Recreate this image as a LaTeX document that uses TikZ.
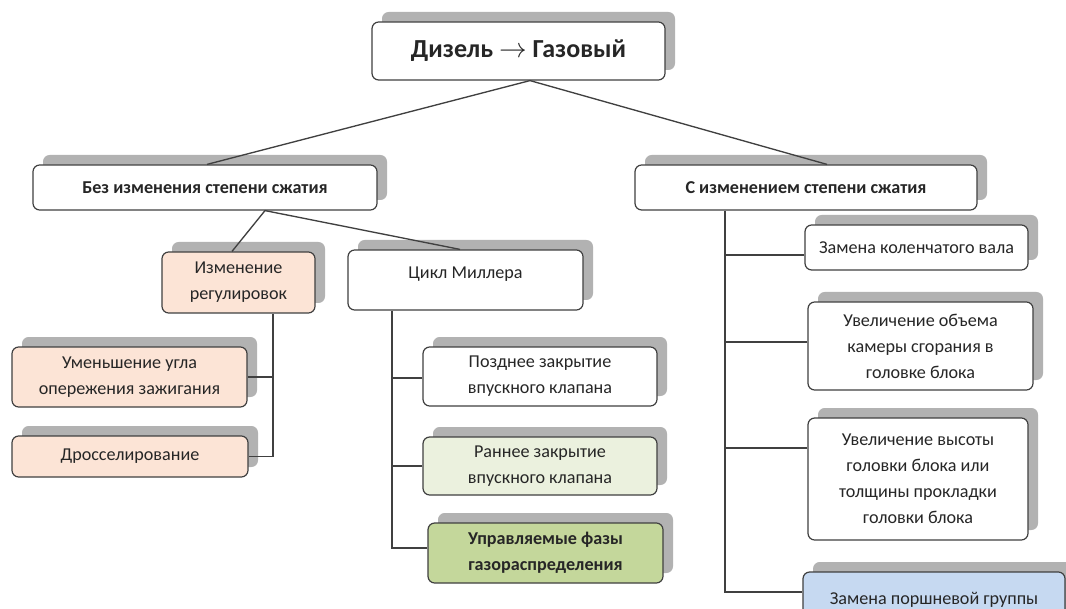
\documentclass[tikz,border=0pt]{standalone}
\usepackage{fontspec}
\setmainfont{Carlito}
\usetikzlibrary{calc,shadows}
\definecolor{peach}{HTML}{FCE4D6}
\definecolor{lgreen}{HTML}{EBF1DE}
\definecolor{dgreen}{HTML}{C4D79B}
\definecolor{lblue}{HTML}{C6D9F1}
\definecolor{edge}{HTML}{404040}
\begin{document}
\begin{tikzpicture}[x=0.75pt,y=-0.75pt,
  wh/.style 2 args={minimum width=#1*0.75pt,minimum height=#2*0.75pt},
  box/.style={draw=edge, line width=0.9pt, rounded corners=5pt, fill=white,
    align=center, inner sep=0pt, text=black!85,
    font=\fontsize{13.6}{19.5}\selectfont,
    drop shadow={shadow xshift=7.5pt, shadow yshift=7.5pt, fill=black!30, opacity=1}},
  bbox/.style={box, font=\fontsize{13.6}{19.5}\selectfont\bfseries},
  link/.style={draw=edge, line width=1pt}]
\clip (0,0) rectangle (1066,609);
\fill[white] (0,0) rectangle (1066,609);

\node[box, wh={293}{58}, font=\fontsize{19.5}{23}\selectfont\bfseries] (top) at (518.5,51) {Дизель $\rightarrow$ Газовый};
\node[bbox, wh={344}{45}] (bez) at (205,187.5) {Без изменения степени сжатия};
\node[bbox, wh={342}{45}] (s) at (806,187.5) {С изменением степени сжатия};

\node[box, fill=peach, wh={153}{61}] (izm) at (238.5,282.5) {Изменение\\регулировок};
\node[box, wh={235}{60}, text depth=10.5pt] (mil) at (465.5,280) {Цикл Миллера};

\node[box, fill=peach, wh={235}{60}] (umen) at (129.5,377) {Уменьшение угла\\опережения зажигания};
\node[box, fill=peach, wh={236}{41}] (dros) at (130,456.5) {Дросселирование};

\node[box, wh={234}{59}] (pozd) at (540,376.5) {Позднее закрытие\\впускного клапана};
\node[box, fill=lgreen, wh={234}{58}] (ran) at (540,466) {Раннее закрытие\\впускного клапана};
\node[bbox, fill=dgreen, wh={235}{60}] (upr) at (545.5,553) {Управляемые фазы\\газораспределения};

\node[box, wh={223}{45}] (kol) at (916.5,247.5) {Замена коленчатого вала};
\node[box, wh={225}{88}] (uvob) at (920.5,346) {Увеличение объема\\камеры сгорания в\\головке блока};
\node[box, wh={220}{122}] (uvvy) at (918,479) {Увеличение высоты\\головки блока или\\толщины прокладки\\головки блока};
\node[box, fill=lblue, wh={262}{56}] (porsh) at (934,600) {Замена поршневой группы};

% connectors
\draw[link] ($(top.south)+(11.5,0)$) -- ($(bez.north)+(2,0)$);
\draw[link] ($(top.south)+(11.5,0)$) -- ($(s.north)+(21,0)$);
\draw[link] ($(bez.south)+(60,0)$) -- ($(izm.north)+(-6.5,0)$);
\draw[link] ($(bez.south)+(60,0)$) -- ($(mil.north)+(-5.5,0)$);

\coordinate (iz) at ($(izm.south)+(34.5,0)$);
\draw[link] (iz) |- (dros.east);
\draw[link] (umen.east) -| (iz);

\coordinate (mi) at ($(mil.south)+(-73.5,0)$);
\draw[link] (mi) |- ($(upr.west)+(0,-5)$);
\draw[link] ($(pozd.west)+(0,1.5)$) -| (mi);
\draw[link] (ran.west) -| (mi);

\coordinate (sc) at ($(s.south)+(-81,0)$);
\draw[link] (sc) |- ($(porsh.west)+(0,-8)$);
\draw[link] ($(kol.west)+(0,7.5)$) -| (sc);
\draw[link] ($(uvob.west)+(0,-4)$) -| (sc);
\draw[link] ($(uvvy.west)+(0,-31)$) -| (sc);
\end{tikzpicture}
\end{document}
